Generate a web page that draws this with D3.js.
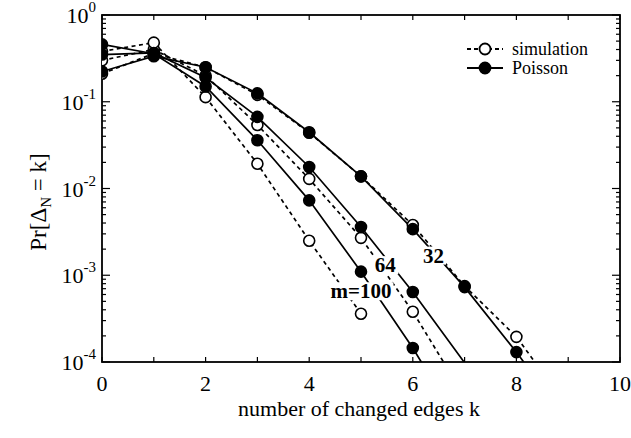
<!DOCTYPE html>
<html>
<head>
<meta charset="utf-8">
<script src="https://cdn.jsdelivr.net/npm/d3@7"></script>
<style>
  body { margin: 0; background: #fff; }
</style>
</head>
<body>
<div id="chart"></div>
<script>
// data
var ks = [0, 1, 2, 3, 4, 5, 6, 7, 8, 9];

var sim32 = [0.21, 0.36, 0.25, 0.12, 0.044, 0.0138, 0.0038, 0.00075, 0.000195, 0.00003];
var poi32 = [0.223, 0.335, 0.25, 0.125, 0.0445, 0.0138, 0.0034, 0.00073, 0.00013, 0.00002];

var sim64 = [0.30, 0.40, 0.20, 0.054, 0.0129, 0.0027, 0.00038, 0.00004];
var poi64 = [0.35, 0.365, 0.19, 0.067, 0.0177, 0.0036, 0.00064, 0.000098];

var sim100 = [0.38, 0.48, 0.113, 0.0193, 0.0025, 0.00036];
var poi100 = [0.458, 0.358, 0.15, 0.036, 0.0073, 0.0011, 0.000145, 0.000015];

var xTicks = [0, 2, 4, 6, 8, 10];
var yTicks = [0, -1, -2, -3, -4];   // exponents of ten

var curveLabels = [
  {text: "32", k: 6.4, p: 0.0017},
  {text: "64", k: 5.47, p: 0.00132},
  {text: "m=100", k: 5.0, p: 0.00066}
];

var FONT = "Liberation Serif, DejaVu Serif, Times New Roman, serif";

// set the dimensions and margins
var W = 631, H = 438;
var margin = {top: 15, right: 11, bottom: 76, left: 102};
var width = W - margin.left - margin.right,
    height = H - margin.top - margin.bottom;

var svg = d3.select("#chart").append("svg")
  .attr("width", W)
  .attr("height", H)
  .attr("font-family", FONT);

var g = svg.append("g")
  .attr("transform", "translate(" + margin.left + "," + margin.top + ")");

var x = d3.scaleLinear().domain([0, 10]).range([0, width]);
var y = d3.scaleLog().domain([1e-4, 1]).range([height, 0]);

g.append("clipPath").attr("id", "clip")
  .append("rect").attr("width", width).attr("height", height);

// ticks, all pointing inward
var minorY = [];
for (var e = -4; e < 0; e++) {
  for (var m = 1; m < 10; m++) minorY.push(m * Math.pow(10, e));
}
minorY.push(1);

var tickG = g.append("g").attr("stroke", "#000").attr("stroke-width", 1.2);
minorY.forEach(function(v) {
  var major = Math.abs(Math.log10(v) - Math.round(Math.log10(v))) < 1e-9;
  var len = major ? 8 : 4;
  tickG.append("line").attr("x1", 0).attr("x2", len).attr("y1", y(v)).attr("y2", y(v));
  tickG.append("line").attr("x1", width).attr("x2", width - len).attr("y1", y(v)).attr("y2", y(v));
});
d3.range(0, 11).forEach(function(v) {
  tickG.append("line").attr("x1", x(v)).attr("x2", x(v)).attr("y1", height).attr("y2", height - 5);
  tickG.append("line").attr("x1", x(v)).attr("x2", x(v)).attr("y1", 0).attr("y2", 5);
});

// frame
g.append("rect")
  .attr("width", width).attr("height", height)
  .attr("fill", "none").attr("stroke", "#000").attr("stroke-width", 1.8);

// tick labels
g.selectAll(".xl").data(xTicks).enter().append("text")
  .attr("x", d => x(d))
  .attr("y", height + 29)
  .attr("text-anchor", "middle")
  .style("font-size", "22px")
  .text(d => d);

var yl = g.selectAll(".yl").data(yTicks).enter().append("text")
  .attr("x", -6)
  .attr("y", d => y(Math.pow(10, d)) + 8)
  .attr("text-anchor", "end")
  .style("font-size", "22px");
yl.append("tspan").text("10");
yl.append("tspan").attr("dy", -11).style("font-size", "15px")
  .text(d => d === 0 ? "0" : "-" + (-d));

// axis titles
g.append("text")
  .attr("x", width / 2 - 2)
  .attr("y", height + 54)
  .attr("text-anchor", "middle")
  .style("font-size", "22px")
  .text("number of changed edges k");

var yt = svg.append("text")
  .attr("transform", "translate(46,202) rotate(-90)")
  .attr("text-anchor", "middle")
  .style("font-size", "23px");
yt.append("tspan").text("Pr[Δ");
yt.append("tspan").attr("dy", 5).style("font-size", "15px").text("N");
yt.append("tspan").attr("dy", -5).text(" = k]");

// curves
var line = d3.line().x((d, i) => x(ks[i])).y(d => y(d));
var plot = g.append("g").attr("clip-path", "url(#clip)");

var series = [
  {v: sim32, sim: true}, {v: sim64, sim: true}, {v: sim100, sim: true},
  {v: poi32, sim: false}, {v: poi64, sim: false}, {v: poi100, sim: false}
];

series.forEach(function(s) {
  plot.append("path")
    .attr("d", line(s.v))
    .attr("fill", "none")
    .attr("stroke", "#000")
    .attr("stroke-width", 1.7)
    .attr("stroke-dasharray", s.sim ? "4,3.5" : null);
});

// label knockouts over the lines
curveLabels.forEach(function(c) {
  var t = g.append("text")
    .attr("x", x(c.k))
    .attr("y", y(c.p))
    .attr("text-anchor", "middle")
    .attr("dy", "0.35em")
    .style("font-size", "21px")
    .style("font-weight", "bold")
    .text(c.text);
  var bb = t.node().getBBox();
  g.insert("rect", function() { return t.node(); })
    .attr("x", bb.x - 2).attr("y", bb.y + 3)
    .attr("width", bb.width + 4).attr("height", bb.height - 6)
    .attr("fill", "#fff");
});

// markers: simulation first, Poisson on top
series.forEach(function(s) {
  plot.selectAll(null)
    .data(s.v.filter(d => d >= 1e-4))
    .enter()
    .append("circle")
      .attr("cx", (d, i) => x(ks[i]))
      .attr("cy", d => y(d))
      .attr("r", 5.5)
      .attr("fill", s.sim ? "#fff" : "#000")
      .attr("stroke", "#000")
      .attr("stroke-width", 1.6);
});

// legend
var leg = g.append("g").attr("transform", "translate(" + (467 - margin.left) + "," + (49 - margin.top) + ")");
[{t: "simulation", sim: true}, {t: "Poisson", sim: false}].forEach(function(d, i) {
  var row = leg.append("g").attr("transform", "translate(0," + i * 19 + ")");
  row.append("line").attr("x1", 0).attr("x2", 36)
    .attr("stroke", "#000").attr("stroke-width", 1.8)
    .attr("stroke-dasharray", d.sim ? "4,3" : null);
  row.append("circle").attr("cx", 18).attr("r", 5.5)
    .attr("fill", d.sim ? "#fff" : "#000")
    .attr("stroke", "#000").attr("stroke-width", 1.8);
  row.append("text").attr("x", 45).attr("dy", "0.33em")
    .style("font-size", "18px").text(d.t);
});
</script>
</body>
</html>
